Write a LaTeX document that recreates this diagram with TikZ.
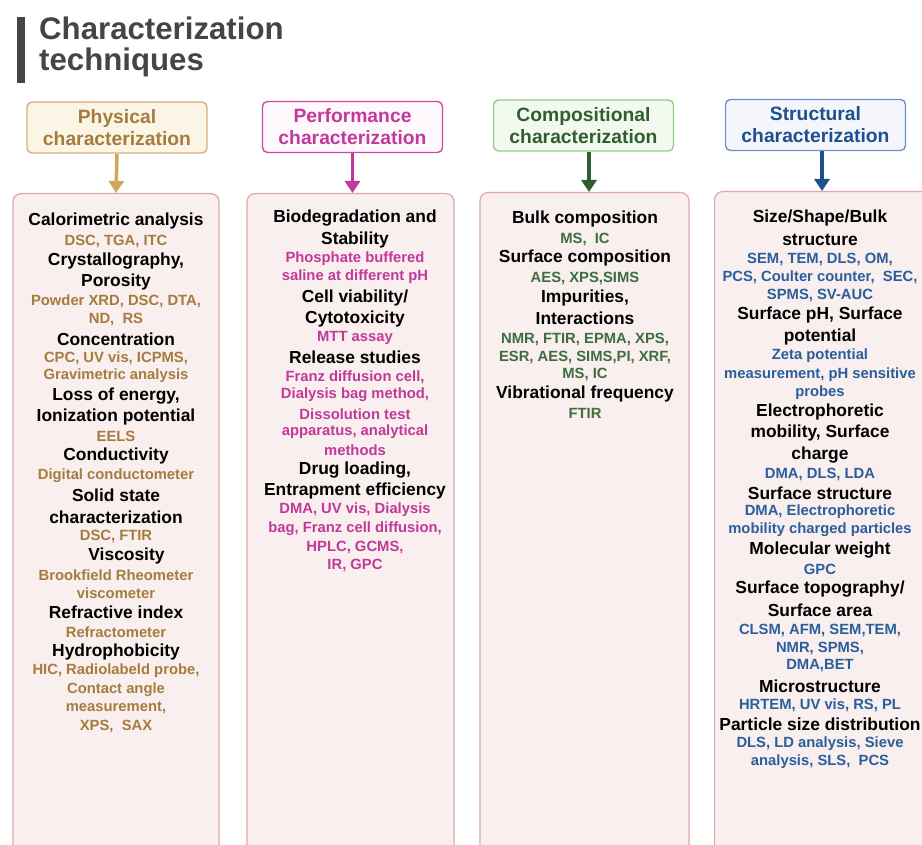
\documentclass[tikz,border=0pt]{standalone}
\usepackage{fontspec}
\setmainfont{Liberation Sans}
\usetikzlibrary{arrows.meta}
\definecolor{titlec}{HTML}{454545}
\definecolor{tanT}{HTML}{A67C3E}
\definecolor{tanB}{HTML}{D8B073}
\definecolor{tanF}{HTML}{FBF5E6}
\definecolor{tanA}{HTML}{D1A55E}
\definecolor{magT}{HTML}{C2399B}
\definecolor{magB}{HTML}{CC4AA3}
\definecolor{magF}{HTML}{FFF8FC}
\definecolor{grnT}{HTML}{2F5F30}
\definecolor{grnS}{HTML}{3E6E3E}
\definecolor{grnB}{HTML}{93CE84}
\definecolor{grnF}{HTML}{F2F9EF}
\definecolor{bluT}{HTML}{1E4F8E}
\definecolor{bluS}{HTML}{2A5E9C}
\definecolor{bluB}{HTML}{7391C8}
\definecolor{bluF}{HTML}{F4F6FB}
\definecolor{boxB}{HTML}{DFA7AF}
\definecolor{boxF}{HTML}{F8EFEE}
\tikzset{
  hdr/.style={draw, line width=1.4pt, rounded corners=5pt, minimum width=180pt,
    minimum height=51pt, inner sep=0pt, align=center,
    font=\fontsize{19.3}{22}\selectfont\bfseries},
  bigbox/.style={draw=boxB, fill=boxF, line width=1.2pt, rounded corners=8pt,
    minimum height=690pt, inner sep=0pt},
  arr/.style={line width=3.5pt, -{Triangle[width=15pt,length=12pt]}},
  hd/.style={inner sep=0pt, text=black, font=\fontsize{17.4}{20}\selectfont\bfseries},
  sbbase/.style={inner sep=0pt, font=\fontsize{14.8}{17}\selectfont\bfseries},
  sbA/.style={sbbase, text=tanT},
  sbB/.style={sbbase, text=magT},
  sbC/.style={sbbase, text=grnS},
  sbD/.style={sbbase, text=bluS},
  ttl/.style={anchor=base west, inner sep=0pt, text=titlec, font=\fontsize{31.2}{34}\selectfont\bfseries},
}
\begin{document}
\begin{tikzpicture}[x=1pt,y=-1pt]
\useasboundingbox (0,0) rectangle (922,845);
\begin{scope}
\clip (0,0) rectangle (922,845);
% title
\fill[titlec] (17,17) rectangle (25,83);
\node[ttl] (t1) at (39,40) {Characterization};
\node[ttl] (t2) at (39,71) {techniques};
% headers
\node[hdr, draw=tanB, fill=tanF, text=tanT] (h1) at (117,127.5) {Physical\\characterization};
\node[hdr, draw=magB, fill=magF, text=magT] (h2) at (352.5,127) {Performance\\characterization};
\node[hdr, draw=grnB, fill=grnF, text=grnT] (h3) at (583.5,125.5) {Compositional\\characterization};
\node[hdr, draw=bluB, fill=bluF, text=bluT] (h4) at (815.5,125) {Structural\\characterization};
% big boxes
\node[bigbox, anchor=north, minimum width=206pt] (b1) at (116,193) {};
\node[bigbox, anchor=north, minimum width=207pt] (b2) at (350.5,193) {};
\node[bigbox, anchor=north, minimum width=209pt] (b3) at (584.5,192) {};
\node[bigbox, anchor=north west, minimum width=230pt] (b4) at (714,191) {};
% arrows
\draw[arr, tanA] (h1.south) -- (b1.north);
\draw[arr, magT] (h2.south) -- (h2.south |- b2.north);
\draw[arr, grnT] ([xshift=5.5pt]h3.south) -- ([xshift=5.5pt]h3.south |- b3.north);
\draw[arr, bluT] ([xshift=6.5pt]h4.south) -- ([xshift=6.5pt]h4.south |- b4.north);
% column 1
\foreach \y/\s/\t [count=\i] in {
  221/hd/{Calorimetric analysis},
  241/sbA/{DSC, TGA, ITC},
  261/hd/{Crystallography,},
  282/hd/{Porosity},
  301/sbA/{Powder XRD, DSC, DTA,},
  319/sbA/{ND,\ \ RS},
  339/hd/{Concentration},
  358/sbA/{CPC, UV vis, ICPMS,},
  376/sbA/{Gravimetric analysis},
  396/hd/{Loss of energy,},
  417/hd/{Ionization potential},
  436/sbA/{EELS},
  456/hd/{Conductivity},
  476/sbA/{Digital conductometer},
  495/hd/{Solid state},
  517/hd/{characterization},
  536/sbA/{DSC, FTIR},
  612/hd/{Refractive index},
  632/sbA/{Refractometer},
  652/hd/{Hydrophobicity},
  671/sbA/{HIC, Radiolabeld probe,},
  690/sbA/{Contact angle},
  708/sbA/{measurement,},
  726/sbA/{XPS,\ \ SAX}}
  \node[\s] (pa\i) at (116,\y) {\t};
\node[hd] (pv) at (126.5,556) {Viscosity};
\node[sbA] (pv1) at (116,575) {Brookfield Rheometer};
\node[sbA] (pv2) at (116,593) {viscometer};
% column 2
\foreach \y/\s/\t [count=\i] in {
  218/hd/{Biodegradation and},
  240/hd/{Stability},
  259/sbB/{Phosphate buffered},
  277/sbB/{saline at different pH},
  298/hd/{Cell viability/},
  319/hd/{Cytotoxicity},
  338/sbB/{MTT assay},
  357/hd/{Release studies},
  377/sbB/{Franz diffusion cell,},
  395/sbB/{Dialysis bag method,},
  414/sbB/{Dissolution test},
  432/sbB/{apparatus, analytical},
  450/sbB/{methods},
  470/hd/{Drug loading,},
  491/hd/{Entrapment efficiency},
  510/sbB/{DMA, UV vis, Dialysis},
  529/sbB/{bag, Franz cell diffusion,},
  547/sbB/{HPLC, GCMS,},
  565/sbB/{IR, GPC}}
  \node[\s] (pb\i) at (355,\y) {\t};
% column 3
\foreach \y/\s/\t [count=\i] in {
  219/hd/{Bulk composition},
  239/sbC/{MS,\ \ IC},
  258/hd/{Surface composition},
  278/sbC/{AES, XPS,SIMS},
  298/hd/{Impurities,},
  318/hd/{Interactions},
  339/sbC/{NMR, FTIR, EPMA, XPS,},
  357/sbC/{ESR, AES, SIMS,PI, XRF,},
  374/sbC/{MS, IC},
  394/hd/{Vibrational frequency},
  413/sbC/{FTIR}}
  \node[\s] (pc\i) at (585,\y) {\t};
% column 4
\foreach \y/\s/\t [count=\i] in {
  218/hd/{Size/Shape/Bulk},
  240/hd/{structure},
  259/sbD/{SEM, TEM, DLS, OM,},
  277/sbD/{PCS, Coulter counter,\ \ SEC,},
  295/sbD/{SPMS, SV-AUC},
  315/hd/{Surface pH, Surface},
  337/hd/{potential},
  356/sbD/{Zeta potential},
  375/sbD/{measurement, pH sensitive},
  393/sbD/{probes},
  412/hd/{Electrophoretic},
  433/hd/{mobility, Surface},
  455/hd/{charge},
  474/sbD/{DMA, DLS, LDA},
  493/hd/{Surface structure},
  512/sbD/{DMA, Electrophoretic},
  530/sbD/{mobility charged particles},
  550/hd/{Molecular weight},
  569/sbD/{GPC},
  589/hd/{Surface topography/},
  610/hd/{Surface area},
  630/sbD/{CLSM, AFM, SEM,TEM,},
  648/sbD/{NMR, SPMS,},
  666/sbD/{DMA,BET},
  686/hd/{Microstructure},
  705/sbD/{HRTEM, UV vis, RS, PL},
  724/hd/{Particle size distribution},
  744/sbD/{DLS, LD analysis, Sieve},
  762/sbD/{analysis, SLS,\ \ PCS}}
  \node[\s] (pd\i) at (820,\y) {\t};
\end{scope}
\end{tikzpicture}
\end{document}
